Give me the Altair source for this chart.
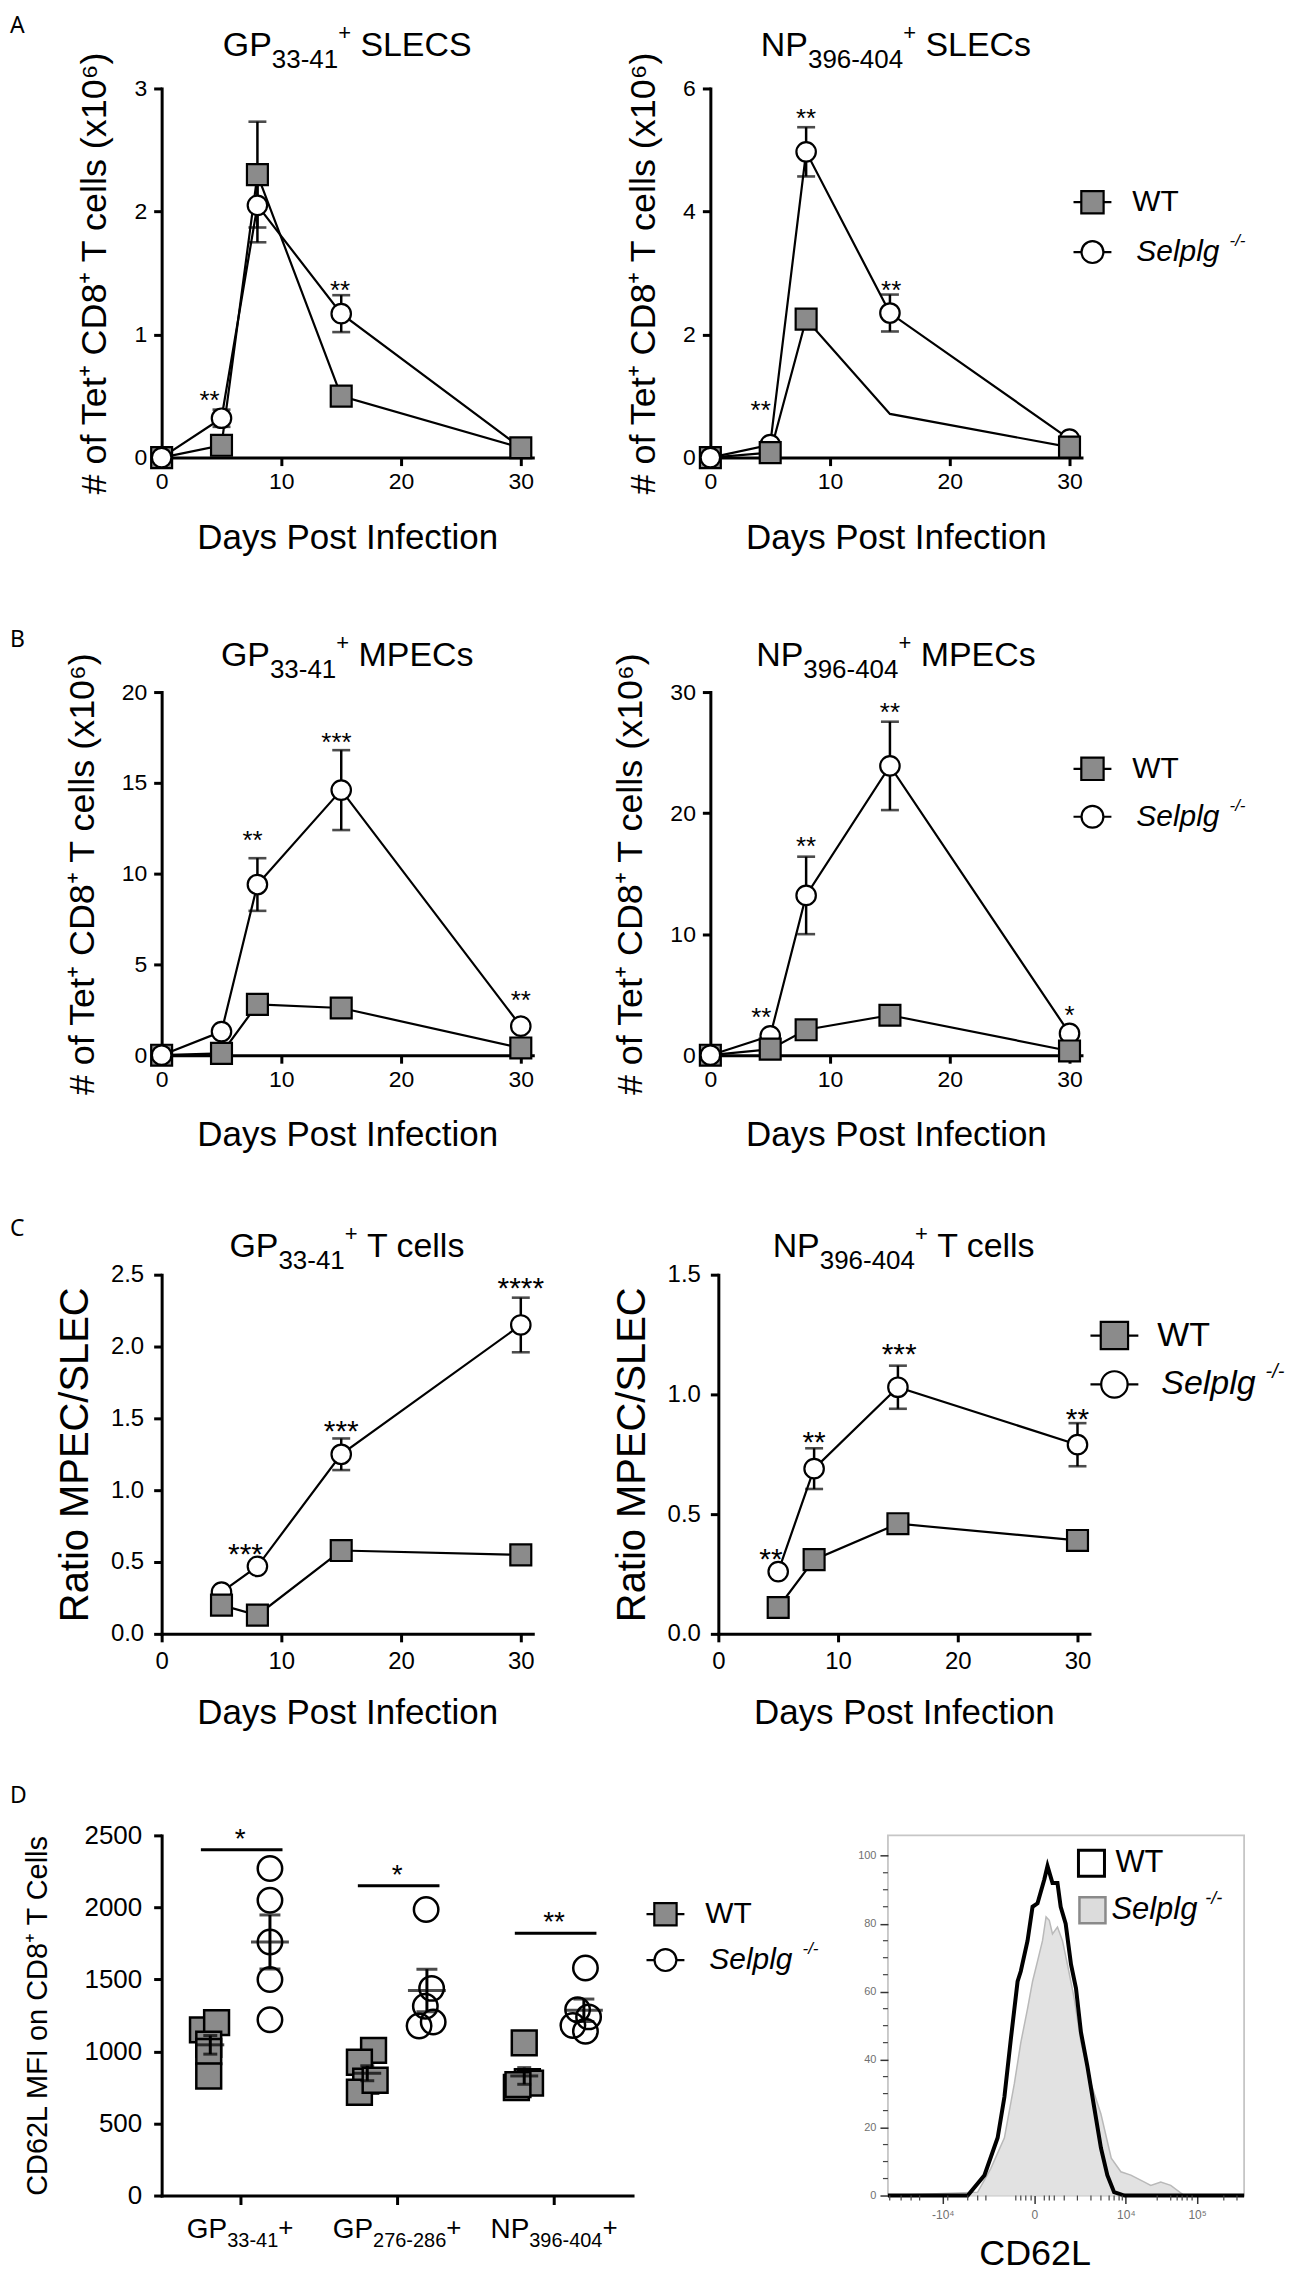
import altair as alt
import pandas as pd

FONT = "Liberation Sans"
LETTER_FONT = "Noto Sans"
WT_FILL = "#8b8b8b"

# ---------------- data ----------------
DAYS = [0, 5, 8, 15, 30]
C_DAYS = [5, 8, 15, 30]

A1_WT = [0.0, 0.10, 2.30, 0.50, 0.08]
A1_WT_ERR = [0.0, 0.0, 0.43, 0.0, 0.0]
A1_KO = [0.0, 0.32, 2.05, 1.17, 0.08]
A1_KO_ERR = [0.0, 0.07, 0.30, 0.15, 0.0]
A1_STAR_DAY = [4.0, 14.9]
A1_STAR_Y = [0.52, 1.41]
A1_STAR_TXT = ["**", "**"]

A2_WT = [0.0, 0.08, 2.25, 0.71, 0.17]
A2_WT_ERR = [0.0, 0.0, 0.0, 0.0, 0.0]
A2_KO = [0.0, 0.21, 4.97, 2.35, 0.30]
A2_KO_ERR = [0.0, 0.05, 0.40, 0.30, 0.0]
A2_STAR_DAY = [4.2, 8.0, 15.1]
A2_STAR_Y = [0.88, 5.62, 2.83]
A2_STAR_TXT = ["**", "**", "**"]

B1_WT = [0.0, 0.1, 2.8, 2.6, 0.4]
B1_WT_ERR = [0.0, 0.0, 0.0, 0.0, 0.0]
B1_KO = [0.0, 1.3, 9.4, 14.6, 1.6]
B1_KO_ERR = [0.0, 0.0, 1.45, 2.2, 0.0]
B1_STAR_DAY = [7.6, 14.6, 30.0]
B1_STAR_Y = [12.2, 17.6, 3.4]
B1_STAR_TXT = ["**", "***", "**"]

B2_WT = [0.0, 0.5, 2.1, 3.3, 0.35]
B2_WT_ERR = [0.0, 0.0, 0.0, 0.5, 0.0]
B2_KO = [0.0, 1.6, 13.2, 23.9, 1.8]
B2_KO_ERR = [0.0, 0.0, 3.2, 3.65, 0.0]
B2_STAR_DAY = [4.25, 8.0, 15.0, 30.0]
B2_STAR_Y = [3.65, 17.8, 28.9, 3.8]
B2_STAR_TXT = ["**", "**", "**", "*"]

C1_WT = [0.20, 0.13, 0.58, 0.55]
C1_WT_ERR = [0.0, 0.0, 0.0, 0.0]
C1_KO = [0.29, 0.47, 1.25, 2.15]
C1_KO_ERR = [0.0, 0.0, 0.11, 0.19]
C1_STAR_DAY = [7.0, 15.0, 30.0]
C1_STAR_Y = [0.61, 1.46, 2.46]
C1_STAR_TXT = ["***", "***", "****"]

C2_WT = [0.11, 0.31, 0.46, 0.39]
C2_WT_ERR = [0.0, 0.03, 0.0, 0.03]
C2_KO = [0.26, 0.69, 1.03, 0.79]
C2_KO_ERR = [0.0, 0.085, 0.09, 0.09]
C2_STAR_DAY = [4.4, 8.0, 15.1, 30.0]
C2_STAR_Y = [0.345, 0.83, 1.20, 0.93]
C2_STAR_TXT = ["**", "**", "***", "**"]

# panel D scatter (CD62L MFI)
D_WT = [[1150, 1200, 1050, 1000, 830],
        [1008, 925, 794, 717, 800],
        [1060, 750, 790, 780, 770]]
D_WT_X = [[-0.24, -0.15, -0.20, -0.20, -0.20],
          [-0.15, -0.24, -0.20, -0.24, -0.14],
          [-0.19, -0.24, -0.17, -0.15, -0.23]]
D_KO = [[2270, 2050, 1760, 1500, 1220],
        [1985, 1438, 1314, 1177, 1205],
        [1580, 1290, 1240, 1180, 1140]]
D_KO_X = [[0.19, 0.19, 0.19, 0.19, 0.19],
          [0.185, 0.22, 0.18, 0.14, 0.23],
          [0.20, 0.15, 0.22, 0.12, 0.20]]
D_SIG_LEVEL = [2400, 2150, 1820]
D_SIG_TXT = ["*", "*", "**"]

# histogram (CD62L, % of max), x in display units 0-100
HIST_WT_X = [0, 22.4, 27.1, 30.8, 32.7, 34.5, 36.4, 37.3, 39.2, 40.6, 42.0, 43.9, 44.8, 46.2,
             47.6, 48.5, 49.9, 51.4, 52.8, 54.2, 56.0, 57.9, 59.8, 61.6, 63.5, 66.4, 100]
HIST_WT_Y = [0, 0, 6, 17, 29, 46, 63, 66, 75, 85, 86, 93, 97, 92,
             92, 85, 80, 68, 61, 48, 38, 26, 14, 6, 1, 0, 0]
HIST_KO_X = [0, 25.2, 28.9, 32.7, 35.5, 37.3, 39.2, 40.6, 42.0, 43.4, 44.4, 45.3, 46.2, 47.6,
             49.0, 50.4, 52.3, 54.2, 57.0, 59.8, 62.7, 65.4, 68.2, 71.9, 73.8, 76.6, 79.4, 83.2, 100]
HIST_KO_Y = [0, 1, 8, 17, 33, 45, 55, 63, 69, 75, 82, 81, 77, 79,
             75, 68, 58, 45, 33, 24, 11, 7, 6, 4, 3, 4, 3, 0, 0]
HIST_XTICKS = [15.4, 41.1, 66.8, 86.8]
HIST_XMINOR = [0.5, 3.7, 6.5, 8.9, 16.8, 22.4, 25.2, 27.5, 35.9, 37.3, 38.7, 40.2, 43.9, 45.3,
               46.7, 49.5, 53.2, 57.0, 59.8, 62.1, 63.5, 64.9, 65.8, 75.6, 79.4, 81.2, 82.6,
               84.0, 85.4, 94.3, 98.0]
HIST_YMINOR = [5, 10, 15, 25, 30, 35, 45, 50, 55, 65, 70, 75, 85, 90, 95]

YTITLE = "# of Tet\u207a CD8\u207a T cells (x10\u2076)"

# ---------------- helpers ----------------
CW = {str(d): 0.556 for d in range(10)}
CW.update({'-': .333, '+': .584, ' ': .278, '/': .278, '*': .389,
           'G': .778, 'P': .667, 'N': .722, 'S': .667, 'L': .556, 'E': .667, 'C': .722,
           'M': .833, 'T': .611, 'W': .944, 'c': .5, 'e': .556, 'l': .222, 's': .5,
           'p': .556, 'g': .556})


def tw(s, fs):
    return sum(CW.get(ch, 0.556) for ch in s) * fs


ONE = pd.DataFrame({"k": [0]})


def rich(segs, x, y, italic=False):
    total = sum(tw(t, fs) for t, fs, _ in segs)
    cur = -total / 2.0
    out = []
    for t, fs, dy in segs:
        lead = len(t) - len(t.lstrip(" "))
        cur += tw(" " * lead, fs)
        body = t.lstrip(" ")
        out.append(alt.Chart(ONE).mark_text(
            text=body, font=FONT, fontSize=fs, fontStyle="italic" if italic else "normal",
            align="left", baseline="alphabetic", dx=cur, dy=dy, color="black"
        ).encode(x=x, y=y))
        cur += tw(body, fs)
    return out


def title_segs(a, sub, rest, fs=34, sfs=26):
    return [(a, fs, 0), (sub, sfs, 12), ("+", 22, -16), (rest, fs, 0)]


def axis_style(**kw):
    base = dict(domainColor="black", domainWidth=3, tickColor="black", tickWidth=3, tickSize=8,
                labelFont=FONT, labelColor="black", titleFont=FONT, titleColor="black",
                titleFontWeight="normal", grid=False, labelFlush=False, labelOverlap=False,
                domainCap="square")
    base.update(kw)
    return alt.Axis(**base)


def letter_layer(ch, ly):
    return alt.Chart(ONE).mark_text(text=ch, font=LETTER_FONT, fontSize=23, align="left",
                                    baseline="alphabetic", color="black").encode(
        x=alt.value(-152), y=alt.value(ly))


def timecourse(days, wt, wte, ko, koe, sday, sy, stxt, ymax, yticks, yfmt, title, ytitle,
               width, height, st, letter, letter_y, hide=None):
    rows = []
    for g, vals, errs in (("KO", ko, koe), ("WT", wt, wte)):
        for d, v, e in zip(days, vals, errs):
            rows.append(dict(day=d, v=v, e=e, geno=g))
    df = pd.DataFrame(rows)
    xscale = alt.Scale(domain=[0, 31], nice=False, zero=False)
    yscale = alt.Scale(domain=[0, ymax], nice=False)
    xax = axis_style(values=[0, 10, 20, 30], format="d", title="Days Post Infection",
                     labelFontSize=st["tick"], titleFontSize=st["xtitle"],
                     labelPadding=st["xlp"], titlePadding=st["xtp"])
    yax = axis_style(values=yticks, format=yfmt, title=ytitle, labelFontSize=st["tick"],
                     titleFontSize=st["ytitle"], labelPadding=st["ylp"], titlePadding=st["ytp"])

    def X(f):
        return alt.X(f"{f}:Q", scale=xscale, axis=xax)

    def Y(f):
        return alt.Y(f"{f}:Q", scale=yscale, axis=yax)

    base = alt.Chart(df)
    line = base.mark_line(color="black", strokeWidth=2.2).encode(
        x=X("day"), y=Y("v"), detail="geno:N", order="day:Q")
    eb = base.transform_filter("datum.e > 0").transform_calculate(
        lo="datum.v - datum.e", hi="datum.v + datum.e")
    rule = eb.mark_rule(color="black", strokeWidth=2.5).encode(x=X("day"), y=Y("lo"), y2="hi:Q")
    caps = [eb.mark_tick(orient="horizontal", color="black", size=st["cap"], thickness=2.6).encode(
        x=X("day"), y=Y(f)) for f in ("lo", "hi")]
    pb = base
    if hide is not None:
        pb = base.transform_filter(f"!(datum.geno == 'WT' && datum.day == {hide})")
    ko_pts = pb.transform_filter("datum.geno == 'KO' && datum.day > 0").mark_point(
        shape="circle", filled=True, fill="white", stroke="black", strokeWidth=2.2,
        size=st["mci"], opacity=1).encode(x=X("day"), y=Y("v"))
    wt_pts = pb.transform_filter("datum.geno == 'WT'").mark_point(
        shape="square", filled=True, fill=WT_FILL, stroke="black", strokeWidth=2.2,
        size=st["msq"], opacity=1).encode(x=X("day"), y=Y("v"))
    ko0 = pb.transform_filter("datum.geno == 'KO' && datum.day == 0").mark_point(
        shape="circle", filled=True, fill="white", stroke="black", strokeWidth=2.2,
        size=st["mci"], opacity=1).encode(x=X("day"), y=Y("v"))
    sdf = pd.DataFrame({"day": sday, "y": sy, "t": stxt})
    stars = alt.Chart(sdf).mark_text(font=FONT, fontSize=st["star"], baseline="middle",
                                     dy=0.28 * st["star"], color="black").encode(
        x=X("day"), y=Y("y"), text="t:N")
    ttl = rich(title, alt.value(width / 2.0), alt.value(st["title_dy"]))
    layers = [line, rule] + caps + [ko_pts, wt_pts, ko0, stars] + ttl
    if letter:
        layers.append(letter_layer(letter, letter_y))
    return alt.layer(*layers).properties(width=width, height=height)


def legend_view(width, height, mx, y0, gap, half, msq, mci, tx, fs):
    ldf = pd.DataFrame({"idx": [0, 1]})
    Y = alt.Y("idx:Q", scale=alt.Scale(domain=[0, 1], range=[y0, y0 + gap]), axis=None)
    b = alt.Chart(ldf)
    ln = b.mark_rule(color="black", strokeWidth=2.2).encode(
        x=alt.value(mx - half), x2=alt.value(mx + half), y=Y)
    sq = b.transform_filter("datum.idx == 0").mark_point(
        shape="square", filled=True, fill=WT_FILL, stroke="black", strokeWidth=2.2,
        size=msq, opacity=1).encode(x=alt.value(mx), y=Y)
    ci = b.transform_filter("datum.idx == 1").mark_point(
        shape="circle", filled=True, fill="white", stroke="black", strokeWidth=2.2,
        size=mci, opacity=1).encode(x=alt.value(mx), y=Y)
    t1 = b.transform_filter("datum.idx == 0").mark_text(
        text="WT", font=FONT, fontSize=fs, align="left", baseline="middle", color="black").encode(
        x=alt.value(tx), y=Y)
    t2 = b.transform_filter("datum.idx == 1").mark_text(
        text="Selplg", font=FONT, fontSize=fs, fontStyle="italic", align="left",
        baseline="middle", color="black").encode(x=alt.value(tx + 4), y=Y)
    t3 = b.transform_filter("datum.idx == 1").mark_text(
        text="-/-", font=FONT, fontSize=round(fs * 0.58), fontStyle="italic", align="left",
        baseline="middle", dx=tw("Selplg", fs) + 10, dy=-fs * 0.36, color="black").encode(
        x=alt.value(tx + 4), y=Y)
    return alt.layer(ln, sq, ci, t1, t2, t3).properties(width=width, height=height)


def spacer(w, h):
    return alt.Chart(ONE).mark_point(opacity=0).encode(
        x=alt.value(0), y=alt.value(0)).properties(width=w, height=h)


def d_panel(width, height):
    rows = []
    for gi in range(3):
        for v, j in zip(D_WT[gi], D_WT_X[gi]):
            rows.append(dict(g=gi + 1, geno="WT", v=v, xo=gi + 1 + j))
        for v, j in zip(D_KO[gi], D_KO_X[gi]):
            rows.append(dict(g=gi + 1, geno="KO", v=v, xo=gi + 1 + j))
    df = pd.DataFrame(rows)
    xscale = alt.Scale(domain=[0.5, 3.5], nice=False, zero=False)
    yscale = alt.Scale(domain=[0, 2500], nice=False)
    xax = axis_style(values=[1, 2, 3], labels=False, title=None, tickSize=9)
    yax = axis_style(values=[0, 500, 1000, 1500, 2000, 2500], format="d",
                     title="CD62L MFI on CD8\u207a T Cells", labelFontSize=26, titleFontSize=29,
                     labelPadding=12, titlePadding=32)

    def X(f):
        return alt.X(f"{f}:Q", scale=xscale, axis=xax)

    def Y(f):
        return alt.Y(f"{f}:Q", scale=yscale, axis=yax)

    base = alt.Chart(df)
    wt = base.transform_filter("datum.geno == 'WT'").mark_point(
        shape="square", filled=True, fill=WT_FILL, stroke="black", strokeWidth=2.5,
        size=620, opacity=1).encode(x=X("xo"), y=Y("v"))
    ko = base.transform_filter("datum.geno == 'KO'").mark_point(
        shape="circle", filled=False, stroke="black", strokeWidth=2.5, size=600,
        opacity=1).encode(x=X("xo"), y=Y("v"))
    agg = base.transform_aggregate(m="mean(v)", se="stderr(v)", groupby=["g", "geno"]).transform_calculate(
        xm="datum.g + (datum.geno == 'WT' ? -0.19 : 0.19)",
        lo="datum.m - datum.se", hi="datum.m + datum.se")
    layers = [wt, ko]
    for geno, mlen, clen in (("WT", 28, 14), ("KO", 38, 21)):
        a = agg.transform_filter(f"datum.geno == '{geno}'")
        layers.append(a.mark_rule(color="black", strokeWidth=3).encode(x=X("xm"), y=Y("lo"), y2="hi:Q"))
        layers.append(a.mark_tick(orient="horizontal", color="black", size=mlen, thickness=3).encode(
            x=X("xm"), y=Y("m")))
        for f in ("lo", "hi"):
            layers.append(a.mark_tick(orient="horizontal", color="black", size=clen, thickness=3).encode(
                x=X("xm"), y=Y(f)))
    sig = pd.DataFrame({"g": [1, 2, 3], "lvl": D_SIG_LEVEL, "t": D_SIG_TXT})
    sb = alt.Chart(sig).transform_calculate(x1="datum.g - 0.25", x2="datum.g + 0.27")
    layers.append(sb.mark_rule(color="black", strokeWidth=3).encode(x=X("x1"), x2="x2:Q", y=Y("lvl")))
    layers.append(alt.Chart(sig).mark_text(font=FONT, fontSize=28, baseline="middle",
                                           dy=0.28 * 28 - 18, color="black").encode(
        x=X("g"), y=Y("lvl"), text="t:N"))
    labels = [("GP", "33-41"), ("GP", "276-286"), ("NP", "396-404")]
    for gi, (a, s) in enumerate(labels):
        segs = [(a, 28, 0), (s, 20, 9), ("+", 26, -2)]
        layers += rich(segs, alt.XDatum(gi + 1, type="quantitative", scale=xscale, axis=xax),
                       alt.value(height + 43))
    layers.append(letter_layer("D", -32))
    return alt.layer(*layers).properties(width=width, height=height)


def hist_panel(width, height):
    wt = pd.DataFrame({"u": HIST_WT_X, "c": HIST_WT_Y})
    ko = pd.DataFrame({"u": HIST_KO_X, "c": HIST_KO_Y})
    xs = alt.Scale(domain=[0, 100], nice=False, zero=False)
    ys = alt.Scale(domain=[0, 106], nice=False)
    xax = alt.Axis(values=HIST_XTICKS,
                   labelExpr="datum.value < 20 ? '-10\u2074' : (datum.value < 50 ? '0' : (datum.value < 80 ? '10\u2074' : '10\u2075'))",
                   labelFont=FONT, labelFontSize=12, labelColor="#707070", tickColor="#333333",
                   tickWidth=1.5, tickSize=8, domain=False, grid=False, title="CD62L",
                   titleFont=FONT, titleFontSize=36, titleFontWeight="normal", titleColor="black",
                   labelPadding=6, titlePadding=16, titleX=147, labelFlush=False)
    yax = alt.Axis(values=[0, 20, 40, 60, 80, 100], labelFont=FONT, labelFontSize=11,
                   labelColor="#707070", tickColor="#333333", tickWidth=1.5, tickSize=8,
                   domain=False, grid=False, title=None, labelPadding=4)
    area = alt.Chart(ko).mark_area(color="#e2e2e2", opacity=1,
                                   line={"color": "#b9b9b9", "strokeWidth": 1.5}).encode(
        x=alt.X("u:Q", scale=xs, axis=xax), y=alt.Y("c:Q", scale=ys, axis=yax))
    line = alt.Chart(wt).mark_line(color="black", strokeWidth=4).encode(
        x=alt.X("u:Q", scale=xs, axis=xax), y=alt.Y("c:Q", scale=ys, axis=yax))
    xm = alt.Chart(pd.DataFrame({"u": HIST_XMINOR})).mark_rule(color="#444444", strokeWidth=1.2).encode(
        x=alt.X("u:Q", scale=xs, axis=xax), y=alt.value(height), y2=alt.value(height + 5))
    ym = alt.Chart(pd.DataFrame({"c": HIST_YMINOR})).mark_rule(color="#444444", strokeWidth=1.2).encode(
        y=alt.Y("c:Q", scale=ys, axis=yax), x=alt.value(-5), x2=alt.value(0))
    inner = alt.layer(area, line, xm, ym)
    ldf = pd.DataFrame({"idx": [0, 1]})
    LY = alt.Y("idx:Q", scale=alt.Scale(domain=[0, 1], range=[28, 75]), axis=None)
    lb = alt.Chart(ldf)
    b1 = lb.transform_filter("datum.idx == 0").mark_square(size=680, fill="white", stroke="black",
                                                          strokeWidth=3, opacity=1).encode(
        x=alt.value(204), y=LY)
    b2 = lb.transform_filter("datum.idx == 1").mark_square(size=680, fill="#dcdcdc", stroke="#8a8a8a",
                                                          strokeWidth=2.5, opacity=1).encode(
        x=alt.value(205), y=LY)
    t1 = lb.transform_filter("datum.idx == 0").mark_text(text="WT", font=FONT, fontSize=31, align="left",
                                                        baseline="middle", color="black").encode(
        x=alt.value(228), y=LY)
    t2 = lb.transform_filter("datum.idx == 1").mark_text(text="Selplg", font=FONT, fontSize=31,
                                                        fontStyle="italic", align="left",
                                                        baseline="middle", color="black").encode(
        x=alt.value(224), y=LY)
    t3 = lb.transform_filter("datum.idx == 1").mark_text(text="-/-", font=FONT, fontSize=18,
                                                        fontStyle="italic", align="left",
                                                        baseline="middle", dx=tw("Selplg", 31) + 8,
                                                        dy=-11, color="black").encode(
        x=alt.value(224), y=LY)
    leg = alt.layer(b1, b2, t1, t2, t3)
    return alt.layer(inner, leg).resolve_scale(y="independent").properties(
        width=width, height=height, view=alt.ViewBackground(stroke="#c6c6c6", strokeWidth=1.8))


# ---------------- styles ----------------
ST_A = dict(tick=23, xtitle=35, ytitle=36, xlp=5, xtp=27, ylp=7, ytp=20, star=26,
            msq=440, mci=380, cap=18, title_dy=-33)
ST_B = dict(ST_A, title_dy=-26)
ST_C = dict(tick=24, xtitle=35, ytitle=40, xlp=8, xtp=22, ylp=10, ytp=15, star=30,
            msq=440, mci=380, cap=18, title_dy=-18)

W = 372
A1 = timecourse(DAYS, A1_WT, A1_WT_ERR, A1_KO, A1_KO_ERR, A1_STAR_DAY, A1_STAR_Y, A1_STAR_TXT,
                3, [0, 1, 2, 3], "d", title_segs("GP", "33-41", " SLECS"), YTITLE, W, 370, ST_A,
                "A", -56)
A2 = timecourse(DAYS, A2_WT, A2_WT_ERR, A2_KO, A2_KO_ERR, A2_STAR_DAY, A2_STAR_Y, A2_STAR_TXT,
                6, [0, 2, 4, 6], "d", title_segs("NP", "396-404", " SLECs"), YTITLE, W, 370, ST_A,
                None, 0, hide=15)
B1 = timecourse(DAYS, B1_WT, B1_WT_ERR, B1_KO, B1_KO_ERR, B1_STAR_DAY, B1_STAR_Y, B1_STAR_TXT,
                20, [0, 5, 10, 15, 20], "d", title_segs("GP", "33-41", " MPECs"), YTITLE, W, 364,
                ST_B, "B", -45)
B2 = timecourse(DAYS, B2_WT, B2_WT_ERR, B2_KO, B2_KO_ERR, B2_STAR_DAY, B2_STAR_Y, B2_STAR_TXT,
                30, [0, 10, 20, 30], "d", title_segs("NP", "396-404", " MPECs"), YTITLE, W, 364,
                ST_B, None, 0)
C1 = timecourse(C_DAYS, C1_WT, C1_WT_ERR, C1_KO, C1_KO_ERR, C1_STAR_DAY, C1_STAR_Y, C1_STAR_TXT,
                2.5, [0, 0.5, 1.0, 1.5, 2.0, 2.5], ".1f", title_segs("GP", "33-41", " T cells"),
                "Ratio MPEC/SLEC", W, 360, ST_C, "C", -39)
C2 = timecourse(C_DAYS, C2_WT, C2_WT_ERR, C2_KO, C2_KO_ERR, C2_STAR_DAY, C2_STAR_Y, C2_STAR_TXT,
                1.5, [0, 0.5, 1.0, 1.5], ".1f", title_segs("NP", "396-404", " T cells"),
                "Ratio MPEC/SLEC", W, 360, ST_C, None, 0)

LA = legend_view(200, 370, 11, 114, 50, 19, 500, 480, 51, 30)
LB = legend_view(200, 364, 11, 77, 48, 19, 500, 480, 51, 30)
LC = legend_view(200, 360, 25, 61, 49, 24, 750, 700, 68, 34)
LD = legend_view(256, 361, 33, 79, 46, 19, 500, 480, 73, 30)

D1 = d_panel(472, 361)
H = hist_panel(357, 361)

rowA = alt.hconcat(A1, spacer(178, 370), A2, LA, spacing=0, bounds="flush")
rowB = alt.hconcat(B1, spacer(178, 364), B2, LB, spacing=0, bounds="flush")
rowC = alt.hconcat(C1, spacer(186, 360), C2, LC, spacing=0, bounds="flush")
rowD = alt.hconcat(D1, LD, H, spacing=0, bounds="flush")

# nested concats count as zero height in a flush layout, so the spacers carry row height + gap
chart = alt.vconcat(rowA, spacer(10, 605), rowB, spacer(10, 584), rowC, spacer(10, 562), rowD,
                    spacing=0, bounds="flush").properties(
    padding={"top": 4, "left": 2, "right": 0, "bottom": 0}).configure(
    background="white", font=FONT).configure_view(stroke=None)

chart.save("out.html", embed_options={"renderer": "svg", "actions": False})
